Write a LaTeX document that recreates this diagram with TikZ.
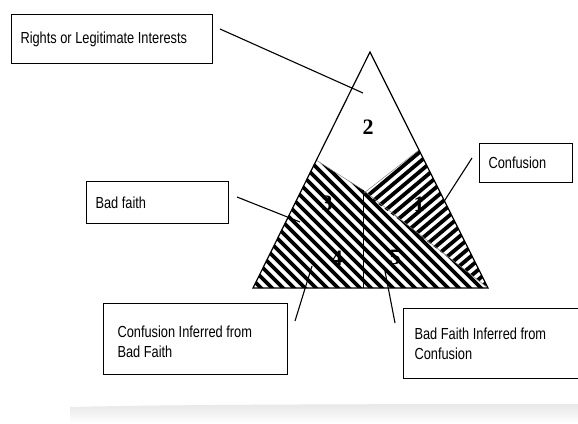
\documentclass[tikz,border=0pt]{standalone}
\usepackage{fontspec}
\newfontfamily\labfont[FakeStretch=0.8]{Liberation Sans}
\newfontfamily\numfont{Liberation Serif}
\newcommand\labsetup{\labfont\fontsize{16}{20}\selectfont}
\usetikzlibrary{calc,fadings}
\tikzset{
  box/.style={draw, line width=1.1pt, anchor=north west, align=flush left, inner ysep=0pt,
    font=\labsetup},
  conn/.style={line width=1.1pt},
  edge/.style={line width=1.2pt},
  seam/.style={gray, line width=0.5pt},
  hatch/.style={line width=3.8pt},
  num/.style={font=\numfont\bfseries\fontsize{22}{22}\selectfont, inner sep=0pt}
}
\begin{document}
\begin{tikzpicture}[x=1pt,y=-1pt]
\useasboundingbox (0,0) rectangle (578,423);
\fill[white] (0,0) rectangle (578,423);
% faint bottom shadow
\fill[gray!18, path fading=south] (70,407) .. controls (150,405) and (300,404) .. (578,404) -- (578,423) -- (70,423) -- cycle;

% main triangle corners
\coordinate (apex) at (370,52);
\coordinate (bl) at (253,288);
\coordinate (br) at (488,288);
\coordinate (cr) at (419,150);
\coordinate (cl) at (316,160);
\coordinate (mid) at (363,190);
\coordinate (mid2) at (364,193);
\coordinate (vb) at (363,288);

% region 1 (confusion) hatching
\begin{scope}
  \clip (cr) -- (mid2) -- (br) -- cycle;
  \foreach \c in {220,231.7,...,520} \draw[hatch] (\c,300) -- ++(-40:260);
\end{scope}
% bad faith hatching
\begin{scope}
  \clip (bl) -- (cl) -- (mid) -- (br) -- cycle;
  \foreach \c in {-60,-49,...,350} \draw[hatch] (\c+90,90) -- (\c+310,310);
\end{scope}

% seams
\draw[seam] (cl) -- (mid) -- (br);
\draw[seam] (cr) -- (mid2);
\draw[line width=0.9pt] (mid) -- (vb);

% triangle outline
\draw[edge, line join=miter] (bl) -- (apex) -- (br) -- cycle;

% numbers
\node[num] (n2) at (368,127) {2};
\node[num] (n3) at (327,203) {3};
\node[num] (n1) at (419,204) {1};
\node[num] (n4) at (337,258) {4};
\node[num] (n5) at (395,257) {5};

% boxes
\node[box, minimum width=201pt, minimum height=49pt, text width=183pt, inner xsep=9pt] (rli) at (11,14) {Rights or Legitimate Interests};
\node[box, minimum width=142pt, minimum height=42pt, text width=124pt, inner xsep=9pt] (bf) at (86,181) {Bad faith};
\node[box, minimum width=93pt, minimum height=39pt, text width=75pt, inner xsep=9pt] (conf) at (479,143) {Confusion};
\node[box, minimum width=184pt, minimum height=71pt, text width=156pt, inner xsep=14pt] (cibf) at (103,303) {\rule{0pt}{18pt}Confusion Inferred from\\Bad Faith};
\node[box, minimum width=182pt, minimum height=70pt, text width=160pt, inner xsep=11pt] (bfic) at (403,308) {Bad Faith Inferred from\\Confusion};

% connectors
\coordinate (a1) at (220,29);  \coordinate (a2) at (363,93);
\coordinate (b1) at (237,197); \coordinate (b2) at (300,222);
\coordinate (c1) at (472,158); \coordinate (c2) at (443,203);
\coordinate (d1) at (295,321); \coordinate (d2) at (312,266);
\coordinate (e1) at (395,323); \coordinate (e2) at (384,266);
\draw[conn] (a1) -- (a2);
\draw[conn] (b1) -- (b2);
\draw[conn] (c1) -- (c2);
\draw[conn] (d1) -- (d2);
\draw[conn] (e1) -- (e2);
\end{tikzpicture}
\end{document}
